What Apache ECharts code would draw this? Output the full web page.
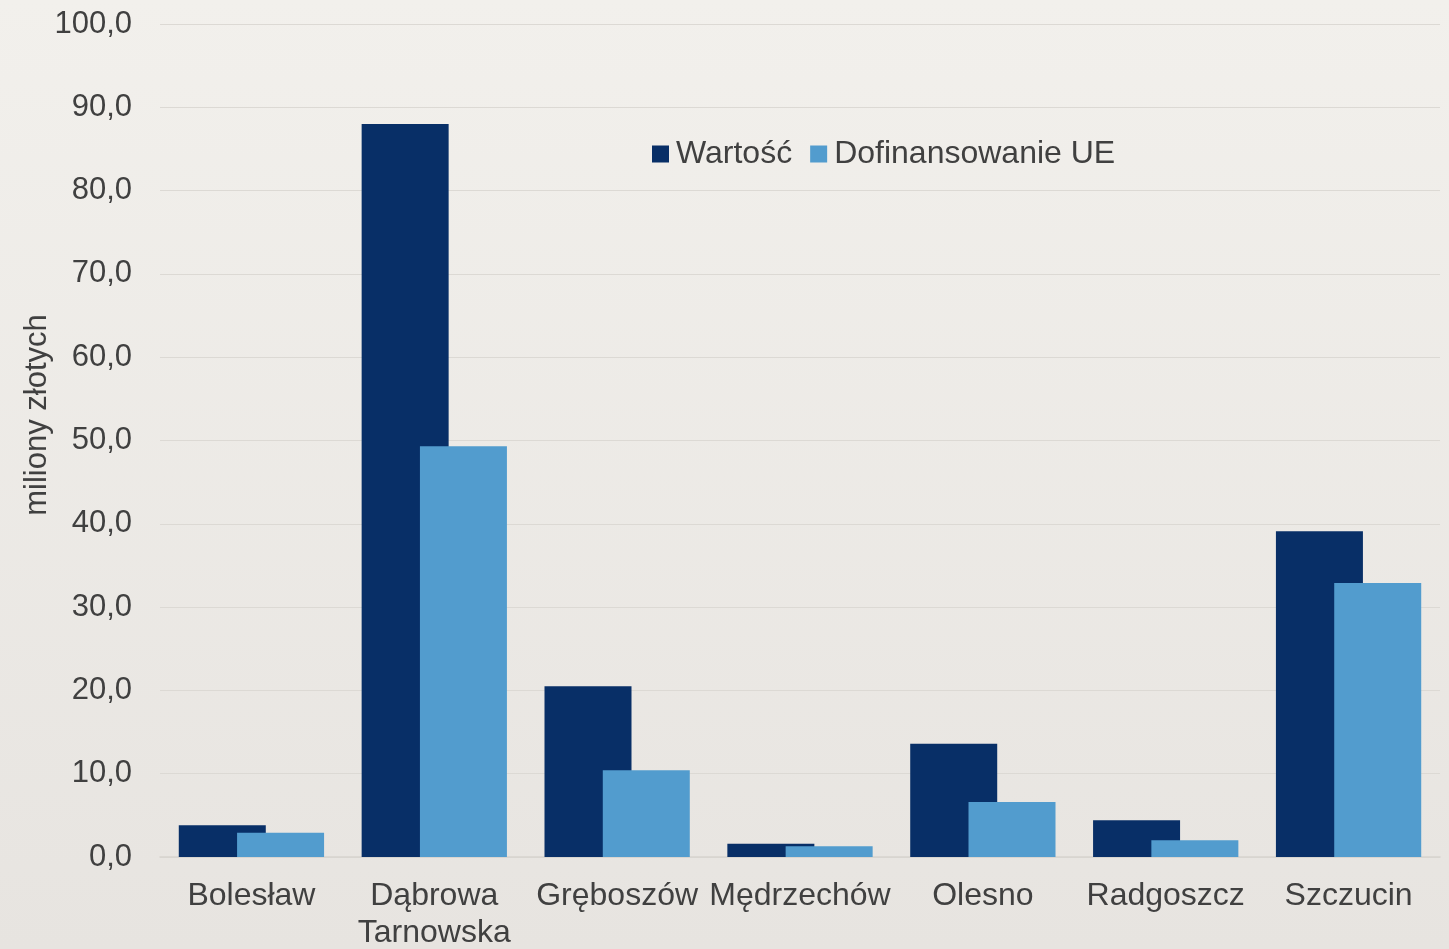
<!DOCTYPE html>
<html>
<head>
<meta charset="utf-8">
<script src="https://cdn.jsdelivr.net/npm/echarts@6/dist/echarts.min.js"></script>
<style>
html,body{margin:0;padding:0;}
#c{width:1449px;height:949px;}
</style>
</head>
<body>
<div id="c"></div>
<script>
const categories = ['Bolesław', 'Dąbrowa\nTarnowska', 'Gręboszów', 'Mędrzechów', 'Olesno', 'Radgoszcz', 'Szczucin'];
const wartosc = [3.8, 88.0, 20.5, 1.6, 13.6, 4.4, 39.1];
const dofinansowanie = [2.9, 49.3, 10.4, 1.3, 6.6, 2.0, 32.9];
const seriesNames = ['Wartość', 'Dofinansowanie UE'];
const yAxisTitle = 'miliony złotych';

const chart = echarts.init(document.getElementById('c'));
const font = 'Liberation Sans, Arial, sans-serif';
chart.setOption({
  backgroundColor: {
    type: 'linear', x: 0, y: 0, x2: 0, y2: 1,
    colorStops: [{offset: 0, color: '#F2F0EC'}, {offset: 1, color: '#E7E4E0'}]
  },
  textStyle: {fontFamily: font},
  graphic: [{
    type: 'text',
    x: 37, y: 415,
    rotation: Math.PI / 2,
    style: {
      text: yAxisTitle, fontSize: 31, fill: '#404040', fontFamily: font,
      align: 'center', verticalAlign: 'middle'
    }
  }],
  legend: {
    data: seriesNames,
    left: 647, top: 133,
    itemWidth: 17, itemHeight: 17, itemGap: 18,
    icon: 'rect',
    textStyle: {fontSize: 32, color: '#404040', fontFamily: font, padding: [0,0,0,2]}
  },
  grid: {left: 160, right: 9, top: 24, bottom: 92, containLabel: false, outerBoundsMode: 'none'},
  xAxis: {
    type: 'category',
    data: categories,
    axisLine: {lineStyle: {color: '#D6D3CE', width: 1.5}},
    axisTick: {show: false},
    axisLabel: {fontSize: 32, color: '#404040', margin: 21, lineHeight: 37, interval: 0, fontFamily: font}
  },
  yAxis: {
    type: 'value',
    min: 0, max: 100, interval: 10,
    axisLine: {show: false},
    axisTick: {show: false},
    splitLine: {lineStyle: {color: '#DCD9D4', width: 1}},
    axisLabel: {
      fontSize: 31, color: '#404040', margin: 28, fontFamily: font,
      formatter: v => v.toFixed(1).replace('.', ',')
    }
  },
  series: [
    {name: seriesNames[0], type: 'bar', data: wartosc, barWidth: 87, barGap: '-33%', itemStyle: {color: '#082F67'}},
    {name: seriesNames[1], type: 'bar', data: dofinansowanie, barWidth: 87, barGap: '-33%', itemStyle: {color: '#529CCE'}}
  ]
});
</script>
</body>
</html>
